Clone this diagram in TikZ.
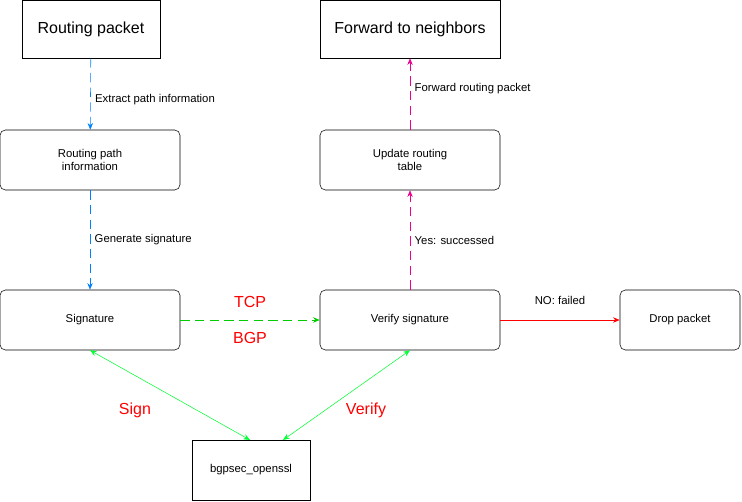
\documentclass[tikz,border=0pt]{standalone}
\usepackage{fontspec}
\setmainfont{Liberation Sans}
\usetikzlibrary{positioning,arrows.meta}

\begin{document}
\begin{tikzpicture}[x=0.75pt, y=-0.75pt,
    box/.style={draw, rounded corners=4pt, minimum width=135pt, minimum height=45pt, align=center, font=\fontsize{8.5}{10}\selectfont},
    big/.style={draw, minimum height=43.5pt, font=\fontsize{12}{14}\selectfont},
    lbl/.style={font=\fontsize{8.5}{10}\selectfont},
    red/.style={text=red, font=\fontsize{12}{14}\selectfont},
    flow/.style={->, >={Stealth[length=5pt,width=4pt]}, dash pattern=on 7pt off 4pt}]

    \useasboundingbox (0,0) rectangle (742,502);

    % Nodes
    \node[big, minimum width=103.5pt] (packet) at (91,29) {Routing packet};
    \node[big, minimum width=135pt] (forward) at (410,29) {Forward to neighbors};
    \node[box] (path) at (90,160) {Routing path\\information};
    \node[box] (update) at (410,160) {Update routing\\table};
    \node[box] (sig) at (90,320) {Signature};
    \node[box] (verify) at (410,320) {Verify signature};
    \node[box, minimum width=90pt] (drop) at (680,320) {Drop packet};
    \node[draw, minimum width=88.5pt, minimum height=45pt, font=\fontsize{8.5}{10}\selectfont] (lib) at (251,470) {bgpsec\_openssl};
    \coordinate (libL) at (250,440);
    \coordinate (libR) at (283,440);

    % Relationships
    \draw[flow, draw=blue!50!cyan] (packet) -- node[pos=0.58, right, lbl] {Extract path information} (path);
    \draw[flow, draw=blue!50!cyan] (path) -- node[right, lbl] {Generate signature} (sig);
    \draw[flow, draw=green!80!black] (sig) -- node[above=6pt, red] {TCP} node[below=6pt, red] {BGP} (verify);
    \draw[flow, draw=magenta] (verify) -- node[right, lbl] {Yes: successed} (update);
    \draw[flow, draw=magenta] (update) -- node[pos=0.58, right, lbl] {Forward routing packet} (forward);
    \draw[->, >={Stealth[length=5pt,width=4pt]}, draw=red] (verify) -- node[above=8pt, lbl] {NO: failed} (drop);
    \draw[<->, >={Stealth[length=5pt,width=4pt]}, draw=green!80!cyan] (sig.south) -- (libL);
    \draw[<->, >={Stealth[length=5pt,width=4pt]}, draw=green!80!cyan] (verify.south) -- (libR);
    \node[red] (signlbl) at (135,410) {Sign};
    \node[red] (verifylbl) at (366,410) {Verify};

\end{tikzpicture}
\end{document}
